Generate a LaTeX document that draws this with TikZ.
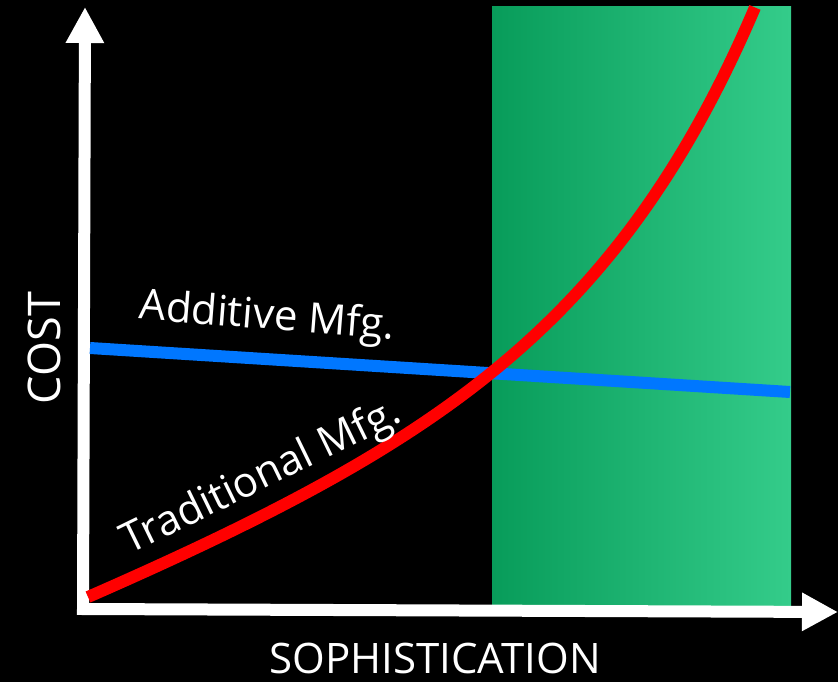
\documentclass[tikz,border=0pt]{standalone}
\usepackage{fontspec}
\setmainfont{Open Sans}
\usetikzlibrary{arrows.meta}
\definecolor{AxisWhite}{HTML}{FFFFFF}
\definecolor{ZoneDark}{RGB}{8,156,90}
\definecolor{ZoneLight}{RGB}{52,204,138}
\definecolor{AddBlue}{HTML}{0077FF}
\definecolor{TradRed}{HTML}{FF0000}

\begin{document}
\begin{tikzpicture}[
  x=1pt, y=-1pt,
  axis/.style={{Triangle[length=36pt,width=36pt]}-{Triangle[length=36pt,width=36pt]}, line width=12pt, AxisWhite},
  costline/.style={line width=12pt, line cap=butt},
  lbl/.style={text=white, font=\fontsize{42}{46}\selectfont, inner sep=0pt}
]
\useasboundingbox[fill=black] (0,0) rectangle (838,682);
% high sophistication zone
\shade[left color=ZoneDark, right color=ZoneLight] (492,7) rectangle (791,605);
% axes
\coordinate (ytip) at (85,7);
\coordinate (origin) at (83,609);
\coordinate (xtip) at (838,612);
\draw[axis] (ytip) -- (origin) -- (xtip);
% cost curves
\coordinate (addstart) at (90,348);
\coordinate (addend) at (790,392);
\draw[costline, AddBlue] (addstart) -- (addend);
\draw[costline, TradRed] plot[domain=0:667, samples=120, smooth]
  ({88+\x}, {597-0.4*\x-6.41*(exp(0.0059*\x)-1)});
% labels
\node[lbl, rotate=-4.5] (addlabel) at (267,318) {Additive Mfg.};
\node[lbl, rotate=26] (tradlabel) at (262,478) {Traditional Mfg.};
\node[lbl, rotate=90, font=\fontsize{45}{48}\selectfont] (ylabel) at (44,348) {COST};
\node[lbl] (xlabel) at (435,658) {SOPHISTICATION};
\end{tikzpicture}
\end{document}
